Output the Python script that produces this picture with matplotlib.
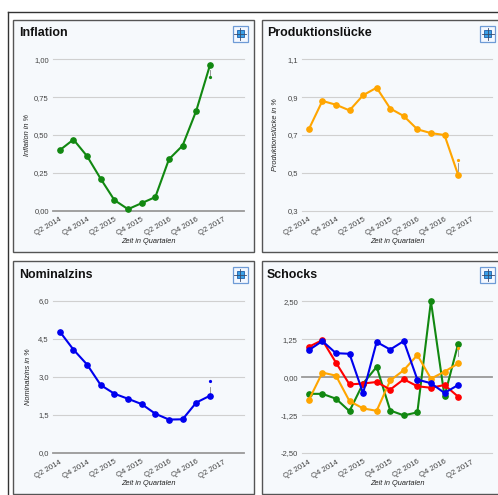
import numpy as np
import matplotlib
matplotlib.use("Agg")
import matplotlib.pyplot as plt
from matplotlib.patches import Rectangle, FancyBboxPatch
from matplotlib.lines import Line2D

# Data (quarters Q2 2014 .. Q1 2017)
quarter_labels = ["Q2 2014", "Q4 2014", "Q2 2015", "Q4 2015", "Q2 2016", "Q4 2016", "Q2 2017"]

inflation = [0.40, 0.47, 0.36, 0.21, 0.07, 0.01, 0.05, 0.09, 0.34, 0.43, 0.66, 0.96]
output_gap = [0.73, 0.88, 0.86, 0.83, 0.91, 0.95, 0.84, 0.80, 0.73, 0.71, 0.70, 0.49]
nominal_rate = [4.79, 4.08, 3.49, 2.68, 2.34, 2.14, 1.93, 1.55, 1.32, 1.33, 1.99, 2.26]

shock_green = [-0.55, -0.55, -0.71, -1.12, -0.21, 0.34, -1.10, -1.26, -1.16, 2.50, -0.63, 1.09]
shock_orange = [-0.76, 0.15, 0.05, -0.79, -1.03, -1.11, -0.11, 0.23, 0.73, -0.05, 0.18, 0.45]
shock_red = [1.00, 1.22, 0.48, -0.24, -0.21, -0.16, -0.41, -0.07, -0.30, -0.35, -0.26, -0.64]
shock_blue = [0.89, 1.19, 0.79, 0.77, -0.53, 1.16, 0.91, 1.19, -0.08, -0.20, -0.52, -0.26]

# small interval markers at the last quarter: (line low, line high, dot)
inflation_mark = (0.89, 0.93, 0.88)
output_gap_mark = (0.51, 0.55, 0.57)
nominal_mark = (2.30, 2.62, 2.84)
shock_mark = (0.70, 0.95, 0.96)

W, H = 498, 495
fig = plt.figure(figsize=(W / 100, H / 100), dpi=100)
fig.patch.set_facecolor("white")

FONT = "Liberation Sans"
PANEL_BG = "#f6f9fc"
TXT = "#444444"


def frac_rect(x0, y0, x1, y1):
    # pixel box (top-left origin) -> figure fraction rect
    return [x0 / W, 1 - y1 / H, (x1 - x0) / W, (y1 - y0) / H]


def fx(x):
    return x / W


def fy(y):
    return 1 - y / H


# outer frame lines
fig.add_artist(Line2D([fx(8), fx(498)], [fy(11.5), fy(11.5)], color="#333333", lw=1.0))
fig.add_artist(Line2D([fx(8.3), fx(8.3)], [fy(11.5), fy(495)], color="#333333", lw=1.0))


def draw_icon(x0, y0):
    # little "maximise" button in the panel corner
    fig.add_artist(Rectangle((fx(x0), fy(y0 + 16)), 15 / W, 16 / H, facecolor="#f4f8ff",
                             edgecolor="#6e9bd6", lw=0.9))
    cx, cy = x0 + 7.5, y0 + 8
    fig.add_artist(Line2D([fx(cx - 6), fx(cx + 6)], [fy(cy), fy(cy)], color="#3a4a6a", lw=0.6))
    fig.add_artist(Line2D([fx(cx), fx(cx)], [fy(cy - 6), fy(cy + 6)], color="#3a4a6a", lw=0.6))
    fig.add_artist(Rectangle((fx(cx - 3.5), fy(cy + 3.5)), 7 / W, 7 / H, facecolor="#3aa0e8",
                             edgecolor="#1f5fa8", lw=0.6))


def make_panel(box, axbox, title, title_xy, ylabel, ylabel_x, ylim, yticks, ydec, series,
               mark=None, mark_color=None, baseline=None):
    bx0, by0, bx1, by1 = box
    fig.add_artist(Rectangle((fx(bx0), fy(by1)), (bx1 - bx0) / W, (by1 - by0) / H,
                             facecolor=PANEL_BG, edgecolor="#555555", lw=1.0, zorder=0))
    draw_icon(bx1 - 21 if bx1 < 400 else 480, by0 + 6)
    fig.text(fx(title_xy[0]), fy(title_xy[1]), title, fontsize=8.9, fontweight="bold",
             family=FONT, color="#111111", va="baseline", ha="left")

    ax = fig.add_axes(frac_rect(*axbox))
    ax.set_facecolor("none")
    for s in ax.spines.values():
        s.set_visible(False)
    ax.set_xlim(-0.5, 13.5)
    ax.set_ylim(*ylim)
    for t in yticks:
        if baseline is not None and abs(t - baseline) < 1e-9:
            ax.axhline(t, color="#999999", lw=1.3, zorder=1, clip_on=False)
        else:
            ax.axhline(t, color="#d0d0d0", lw=0.8, zorder=1, clip_on=False)
    ax.set_yticks(yticks)
    ax.set_yticklabels([f"{t:.{ydec}f}".replace(".", ",") for t in yticks],
                       fontsize=5.5, family=FONT, color=TXT)
    ax.set_xticks(np.arange(0, 13, 2))
    ax.set_xticklabels(quarter_labels, rotation=30, ha="right", rotation_mode="anchor",
                       fontsize=5.6, family=FONT, color=TXT)
    ax.tick_params(length=0, pad=3)
    ax.tick_params(axis="x", pad=4)

    x = np.arange(len(series[0][0]))
    for vals, col in series:
        ax.plot(x, vals, color=col, lw=1.5, marker="o", markersize=3.8, zorder=3, clip_on=False)

    if mark is not None:
        lo, hi, dot = mark
        ax.plot([11, 11], [lo, hi], color="#888888", lw=0.6, zorder=2, clip_on=False)
        ax.plot([11], [dot], "o", color=mark_color, markersize=1.3, zorder=4, clip_on=False)

    # axis titles
    cx = (axbox[0] + axbox[2]) / 2
    fig.text(fx(cx), fy(axbox[3] + 30.5), "Zeit in Quartalen", fontsize=5.3, style="italic",
             family=FONT, color="#222222", ha="center", va="center")
    if ylabel:
        cy = (axbox[1] + axbox[3]) / 2
        fig.text(fx(ylabel_x), fy(cy), ylabel, fontsize=5.3, style="italic", rotation=90,
                 family=FONT, color="#222222", ha="center", va="center")
    return ax


make_panel((13, 19.5, 253.5, 251.5), (53, 59.3, 244, 210.7), "Inflation", (19, 36),
           "Inflation in %", 27.5, (0, 1), [0, 0.25, 0.5, 0.75, 1.0], 2,
           [(inflation, "#118811")], inflation_mark, "#118811", baseline=0)

make_panel((262.3, 19.5, 499, 251.5), (302, 59.3, 492, 210.7), "Produktionslücke", (266.7, 36),
           "Produktionslücke in %", 275.5, (0.3, 1.1), [0.3, 0.5, 0.7, 0.9, 1.1], 1,
           [(output_gap, "#ffa500")], output_gap_mark, "#ffa500")

make_panel((13, 260.7, 253.5, 493.5), (53, 301, 244, 453), "Nominalzins", (19, 277.5),
           "Nominalzins in %", 28, (0, 6), [0, 1.5, 3.0, 4.5, 6.0], 1,
           [(nominal_rate, "#0000ee")], nominal_mark, "#0000ee", baseline=0)

make_panel((262.3, 260.7, 499, 493.5), (302, 301.3, 492, 453), "Schocks", (266.7, 277.5),
           None, 0, (-2.5, 2.5), [-2.5, -1.25, 0, 1.25, 2.5], 2,
           [(shock_green, "#118811"), (shock_orange, "#ffa500"),
            (shock_red, "#ff0000"), (shock_blue, "#0000ee")],
           shock_mark, "#ffa500", baseline=0)

fig.savefig("out.png", dpi=100)
